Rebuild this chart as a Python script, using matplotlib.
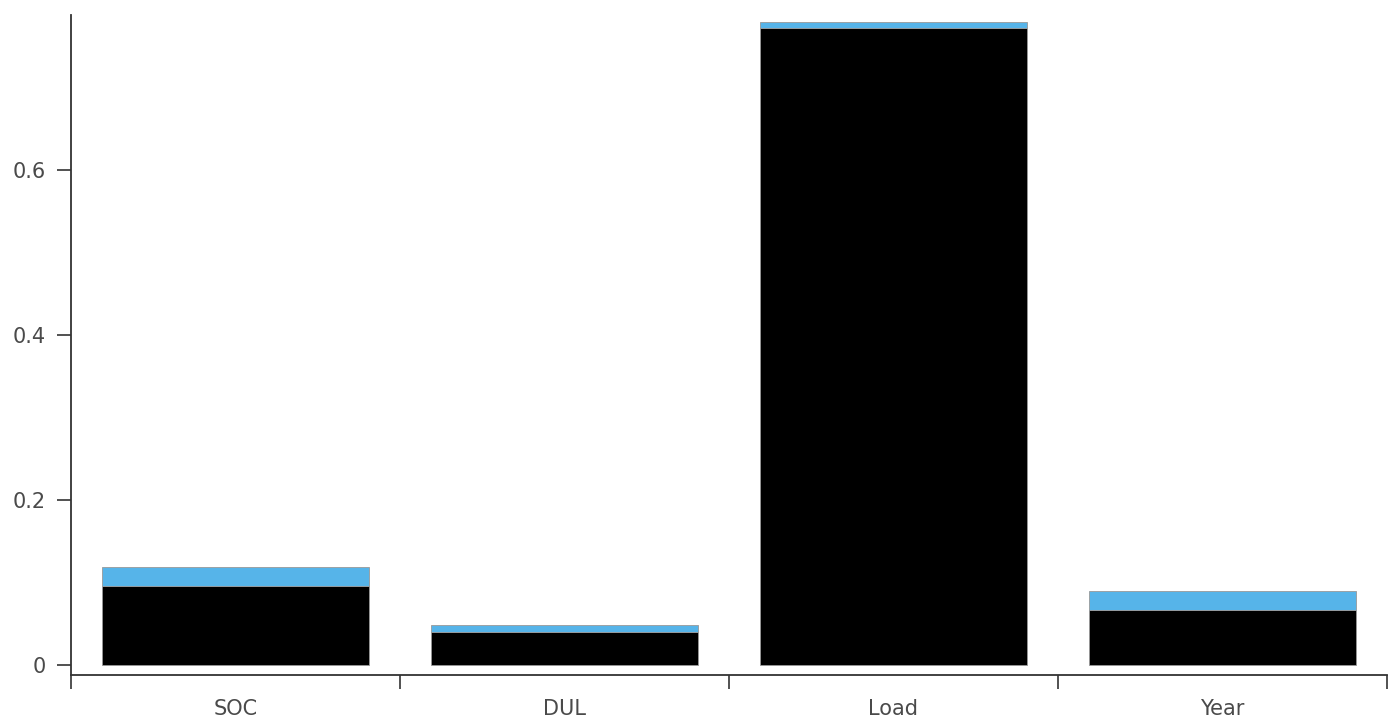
import numpy as np
import matplotlib.pyplot as plt

categories = ["SOC", "DUL", "Load", "Year"]
main_effect = [0.096, 0.040, 0.772, 0.067]
interaction = [0.023, 0.0085, 0.007, 0.023]

BLUE = "#56B4E9"


def main():
    fig = plt.figure(figsize=(13.94, 7.2), dpi=100)
    ax = fig.add_axes([71 / 1394, 45 / 720, 1316 / 1394, 660 / 720])

    x = np.arange(len(categories)) + 0.5
    ax.bar(x, main_effect, width=0.81, color="black",
           edgecolor="#999999", linewidth=0.6)
    ax.bar(x, interaction, width=0.81, bottom=main_effect, color=BLUE,
           edgecolor="#999999", linewidth=0.6)

    ax.set_xlim(0, len(categories))
    ax.set_ylim(-0.012, 0.788)

    # labels at bar centres, tick marks at category edges
    ax.set_xticks(x)
    ax.set_xticklabels(categories)
    ax.set_xticks(np.arange(len(categories) + 1), minor=True)
    ax.tick_params(axis="x", which="major", length=0, pad=17.5,
                   labelsize=15, labelcolor="#4a4a4a")
    ax.tick_params(axis="x", which="minor", length=10, width=1.1,
                   direction="out", color="#222222")

    ax.set_yticks([0, 0.2, 0.4, 0.6])
    ax.set_yticklabels(["0", "0.2", "0.4", "0.6"])
    ax.tick_params(axis="y", length=10, width=1.1, direction="out",
                   color="#222222", labelsize=15, labelcolor="#4a4a4a", pad=8)

    for side in ["top", "right"]:
        ax.spines[side].set_visible(False)
    for side in ["left", "bottom"]:
        ax.spines[side].set_linewidth(1.3)
        ax.spines[side].set_color("#333333")

    fig.savefig("out.png", dpi=100)


if __name__ == "__main__":
    main()
